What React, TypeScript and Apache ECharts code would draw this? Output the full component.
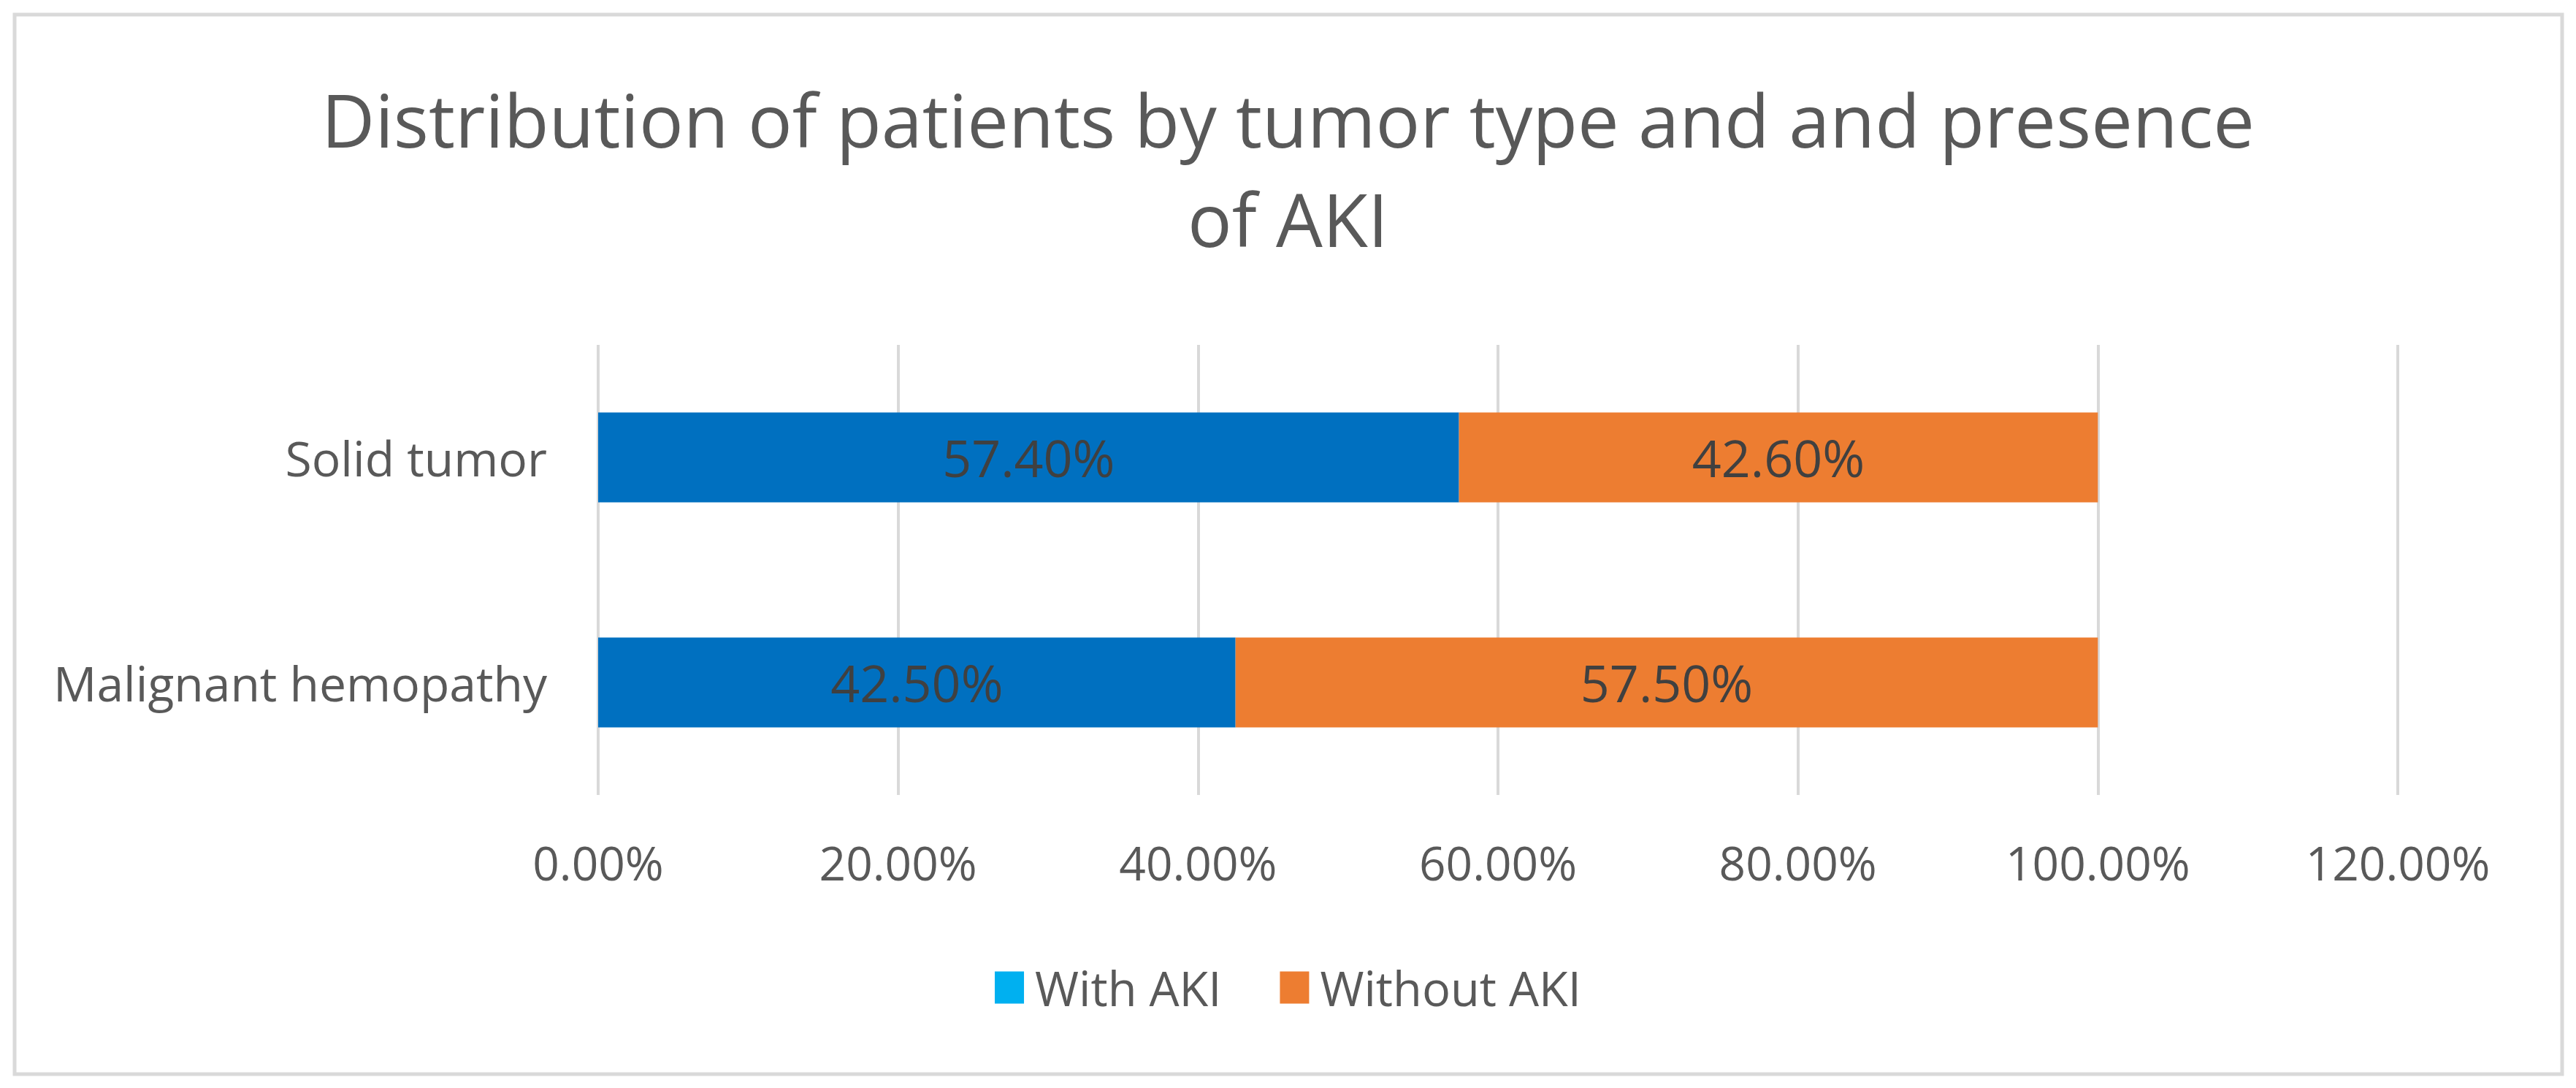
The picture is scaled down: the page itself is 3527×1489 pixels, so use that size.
import React, { useEffect, useRef } from "react";
import * as echarts from "echarts";

const categories = ["Malignant hemopathy", "Solid tumor"];
const withAKI = [42.5, 57.4];
const withoutAKI = [57.5, 42.6];
const seriesNames = ["With AKI", "Without AKI"];
const titleText = "Distribution of patients by tumor type and and presence\nof AKI";

const FONT = "'Open Sans', Lato, sans-serif";

export default function App() {
  const ref = useRef<HTMLDivElement>(null);
  useEffect(() => {
    if (!ref.current) return;
    const chart = echarts.init(ref.current, undefined, { renderer: "svg" });
    const pct = (v: number) => v.toFixed(2) + "%";
    chart.setOption({
      animation: false,
      backgroundColor: "#ffffff",
      textStyle: { fontFamily: FONT },
      title: {
        text: titleText,
        left: "center",
        top: 90,
        textStyle: {
          fontFamily: FONT,
          fontSize: 101,
          fontWeight: "normal",
          color: "#595959",
          lineHeight: 136,
        },
      },
      graphic: [
        {
          type: "rect",
          shape: { x: 20, y: 20, width: 3488, height: 1450 },
          style: { fill: "none", stroke: "#D9D9D9", lineWidth: 5 },
          silent: true,
        },
      ],
      legend: {
        left: "center",
        top: 1314,
        itemWidth: 40,
        itemHeight: 44,
        itemGap: 80,
        icon: "rect",
        textStyle: {
          fontFamily: FONT,
          fontSize: 65,
          color: "#595959",
          padding: [0, 0, 0, 10],
        },
        data: [
          { name: seriesNames[0], itemStyle: { color: "#00B0F0" } },
          { name: seriesNames[1], itemStyle: { color: "#ED7D31" } },
        ],
      },
      grid: {
        left: 819,
        right: 244,
        top: 472,
        bottom: 401,
        containLabel: false,
      },
      xAxis: {
        type: "value",
        min: 0,
        max: 120,
        interval: 20,
        axisLine: { show: false },
        axisTick: { show: false },
        splitLine: { show: true, lineStyle: { color: "#D9D9D9", width: 4 } },
        axisLabel: {
          formatter: (v: number) => pct(v),
          fontFamily: FONT,
          fontSize: 64,
          color: "#595959",
          margin: 60,
        },
      },
      yAxis: {
        type: "category",
        data: categories,
        axisLine: { show: false },
        axisTick: { show: false },
        splitLine: { show: false },
        axisLabel: {
          fontFamily: FONT,
          fontSize: 66,
          color: "#595959",
          margin: 70,
        },
      },
      series: [
        {
          name: seriesNames[0],
          type: "bar",
          stack: "total",
          barWidth: "40%",
          data: withAKI,
          itemStyle: { color: "#0070C0" },
          label: {
            show: true,
            position: "inside",
            formatter: (p: any) => pct(p.value),
            fontFamily: FONT,
            fontSize: 70,
            color: "#404040",
          },
        },
        {
          name: seriesNames[1],
          type: "bar",
          stack: "total",
          barWidth: "40%",
          data: withoutAKI,
          itemStyle: { color: "#ED7D31" },
          label: {
            show: true,
            position: "inside",
            formatter: (p: any) => pct(p.value),
            fontFamily: FONT,
            fontSize: 70,
            color: "#404040",
          },
        },
      ],
    });
    return () => chart.dispose();
  }, []);
  return (
    <div
      ref={ref}
      style={{ position: "fixed", left: 0, top: 0, width: 3527, height: 1489 }}
    />
  );
}
